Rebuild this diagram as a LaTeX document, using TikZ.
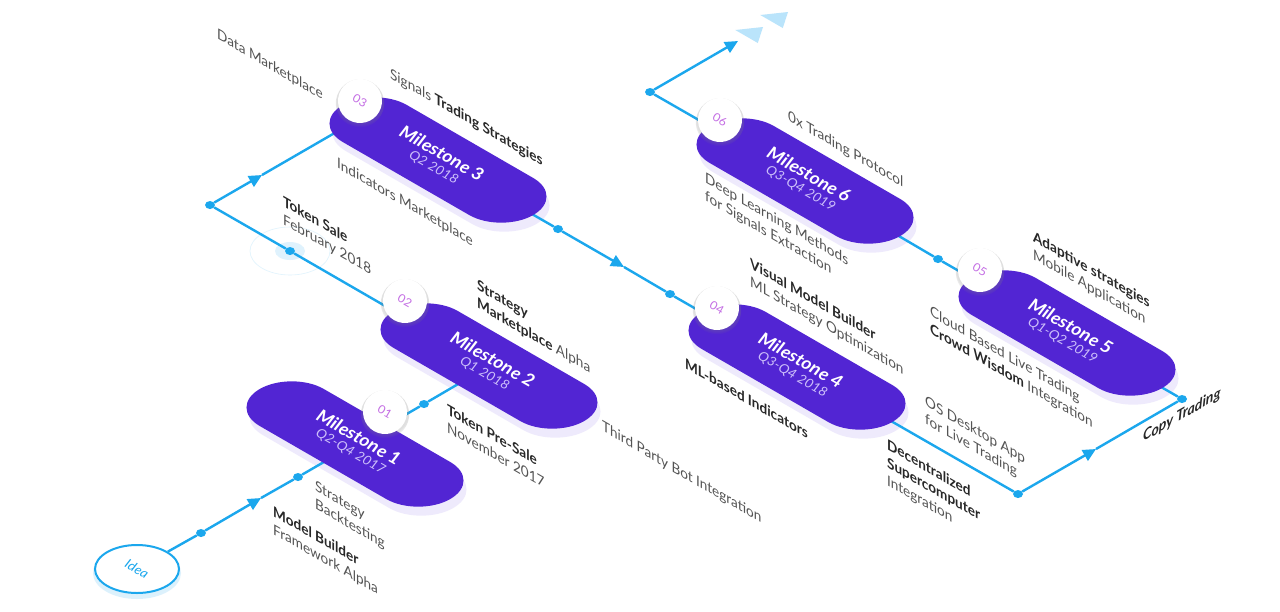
\documentclass[tikz,border=0pt]{standalone}
\usepackage{fontspec}
\setmainfont{Lato}[FakeStretch=1.08]
\usetikzlibrary{arrows.meta,shapes.misc,shapes.geometric,shadows,backgrounds}

\definecolor{msviolet}{RGB}{82,37,211}
\definecolor{msglow}{RGB}{196,182,246}
\definecolor{routeblue}{RGB}{27,167,237}
\definecolor{ghostblue}{RGB}{186,228,251}
\definecolor{badgepink}{RGB}{196,110,228}
\definecolor{datelilac}{RGB}{204,190,250}
\definecolor{labelgray}{RGB}{84,84,84}
\definecolor{labeldark}{RGB}{40,40,40}

\newcommand{\lbold}[1]{{\bfseries\color{labeldark}#1}}
\newcommand{\msdate}[1]{{\fontsize{13}{13}\selectfont\mdseries\color{datelilac}#1}}

\begin{document}
\begin{tikzpicture}[x=1pt, y=-1pt, >={Triangle[length=13pt, width=12pt]},
  isoG/.style={cm={0.866,-0.5,0.866,0.5,(0,0)}},
  isoWall/.style={cm={0.866,-0.5,0,1,(0,0)}},
  isoWallUp/.style={cm={0.866,0.5,0,1,(0,0)}},
  route/.style={routeblue, line width=2.4pt},
  routedot/.style={ellipse, fill=routeblue, inner sep=0pt, minimum width=10pt, minimum height=8pt},
  pill/.style={isoG, rounded rectangle, fill=msviolet, inner sep=0pt, minimum width=220pt, minimum height=74pt},
  pillglow/.style={pill, fill=msglow, opacity=.28},
  mstext/.style={rotate=-30, align=center, inner sep=0pt, text=white, font=\fontsize{17.5}{14}\selectfont\bfseries\itshape},
  badge/.style={circle, fill=white, inner sep=0pt, minimum size=44pt, rotate=-30, text=badgepink,
    font=\fontsize{11.5}{11.5}\selectfont, circular drop shadow={shadow xshift=0pt, shadow yshift=-2pt, opacity=.25}},
  lbl/.style={isoWall, anchor=north west, align=left, inner sep=0pt, text=labelgray, font=\fontsize{14.5}{18}\selectfont},
  copylbl/.style={isoWallUp, anchor=base west, inner sep=0pt, text=labeldark, font=\fontsize{15}{18}\selectfont\bfseries\itshape},
]

% plocha
\useasboundingbox (0,0) rectangle (1280,611);
\begin{pgfonlayer}{background}
  \fill[white] (0,0) rectangle (1280,611);
\end{pgfonlayer}

% start
\node[ellipse, draw=routeblue, line width=2pt, fill=white, minimum width=84pt, minimum height=48pt] (idea) at (137,569) {};
\node[rotate=-30, text=routeblue, font=\fontsize{13}{13}\selectfont\itshape] (ideat) at (idea) {Idea};

% milniky
\node[pill] (m1) at (355,444) {};
\node[pill] (m2) at (489,366) {};
\node[pill] (m3) at (438,160) {};
\node[pill] (m4) at (797,367) {};
\node[pill] (m5) at (1067,333) {};
\node[pill] (m6) at (805,181) {};

\node[mstext] (m1t) at (m1) {Milestone 1\\\msdate{Q2-Q4 2017}};
\node[mstext] (m2t) at (m2) {Milestone 2\\\msdate{Q1 2018}};
\node[mstext] (m3t) at (m3) {Milestone 3\\\msdate{Q2 2018}};
\node[mstext] (m4t) at (m4) {Milestone 4\\\msdate{Q3-Q4 2018}};
\node[mstext] (m5t) at (m5) {Milestone 5\\\msdate{Q1-Q2 2019}};
\node[mstext] (m6t) at (m6) {Milestone 6\\\msdate{Q3-Q4 2019}};

% cisla
\node[badge] (b1) at (385,412) {01};
\node[badge] (b2) at (405,301) {02};
\node[badge] (b3) at (360,101) {03};
\node[badge] (b4) at (717,308) {04};
\node[badge] (b5) at (980,270) {05};
\node[badge] (b6) at (720,120) {06};

% body trasy
\node[routedot] (d1) at (201,533) {};
\node[routedot] (d2) at (298,477) {};
\node[routedot] (d3) at (424,404) {};
\node[routedot] (tok) at (290,251) {};
\node[routedot] (c1) at (210,205) {};
\node[routedot] (d4) at (558,229) {};
\node[routedot] (d5) at (670,294) {};
\node[routedot] (c2) at (1018,494) {};
\node[routedot] (c3) at (1182,399) {};
\node[routedot] (d6) at (938,259) {};
\node[routedot] (c4) at (650,92) {};

\coordinate (a1) at (261,498);
\coordinate (a2) at (262,175);
\coordinate (m3in) at (345,127);
\coordinate (a3) at (624,267);
\coordinate (a4) at (1096,449);
\coordinate (a5) at (738,41);
\coordinate (t1) at (763,27);
\coordinate (t2) at (788,12);

% trasa pod milniky
\begin{pgfonlayer}{background}
  \node[pillglow] (g1) at ([shift={(3,9)}]m1.center) {};
  \node[pillglow] (g2) at ([shift={(3,9)}]m2.center) {};
  \node[pillglow] (g3) at ([shift={(3,9)}]m3.center) {};
  \node[pillglow] (g4) at ([shift={(3,9)}]m4.center) {};
  \node[pillglow] (g5) at ([shift={(3,9)}]m5.center) {};
  \node[pillglow] (g6) at ([shift={(3,9)}]m6.center) {};
  \node[ellipse, fill=ghostblue, opacity=.5, minimum width=88pt, minimum height=52pt] (ig) at ([shift={(0,4)}]idea.center) {};

  \fill[ghostblue, opacity=.45] (tok) ellipse [x radius=15, y radius=9];
  \draw[ghostblue, opacity=.45, line width=.6pt] (tok) ellipse [x radius=40, y radius=24];

  \draw[route] (idea) -- (d1);
  \draw[route, ->] (d1) -- (a1);
  \draw[route] (a1) -- (d2) -- (m1.center);
  \draw[route] (m1.center) -- (d3) -- (m2.center);
  \draw[route] (m2.center) -- (tok) -- (c1);
  \draw[route, ->] (c1) -- (a2);
  \draw[route] (a2) -- (m3in);
  \draw[route] (m3.center) -- (d4);
  \draw[route, ->] (d4) -- (a3);
  \draw[route] (a3) -- (d5) -- (m4.center);
  \draw[route] (m4.center) -- (c2);
  \draw[route, ->] (c2) -- (a4);
  \draw[route] (a4) -- (c3) -- (m5.center);
  \draw[route] (m5.center) -- (d6) -- (m6.center);
  \draw[route] (m6.center) -- (c4);
  \draw[route, ->] (c4) -- (a5);
\end{pgfonlayer}

% slabe sipky
\fill[ghostblue, shift={(t1)}, isoG] (0,0) -- (13,19) -- (-13,19) -- cycle;
\fill[ghostblue, shift={(t2)}, isoG] (0,0) -- (13,19) -- (-13,19) -- cycle;

% popisky
\node[lbl] (ldata) at (217,28) {Data Marketplace};
\node[lbl] (lsignals) at (390,67) {Signals \lbold{Trading Strategies}};
\node[lbl] (lindic) at (337,157) {Indicators Marketplace};
\node[lbl] (ltoken) at (283,195) {\lbold{Token Sale}\\February 2018};
\node[lbl] (lstrat) at (477,279) {\lbold{Strategy}\\\lbold{Marketplace} Alpha};
\node[lbl] (lpresale) at (447,403) {\lbold{Token Pre-Sale}\\November 2017};
\node[lbl] (lthird) at (602,420) {Third Party Bot Integration};
\node[lbl] (lbacktest) at (315,480) {Strategy\\Backtesting};
\node[lbl] (lmodel) at (273,505) {\lbold{Model Builder}\\Framework Alpha};
\node[lbl] (lzerox) at (788,110) {0x Trading Protocol};
\node[lbl] (ldeep) at (705,172) {Deep Learning Methods\\for Signals Extraction};
\node[lbl] (lvisual) at (750,257) {\lbold{Visual Model Builder}\\ML Strategy Optimization};
\node[lbl] (lmlind) at (685,357) {\lbold{ML-based Indicators}};
\node[lbl] (ldecent) at (887,438) {\lbold{Decentralized}\\\lbold{Supercomputer}\\Integration};
\node[lbl] (losdesk) at (925,395) {OS Desktop App\\for Live Trading};
\node[lbl] (lcloud) at (930,305) {Cloud Based Live Trading\\\lbold{Crowd Wisdom} Integration};
\node[lbl] (ladapt) at (1033,230) {\lbold{Adaptive strategies}\\Mobile Application};
\node[copylbl] (lcopy) at (1143,442) {Copy Trading};

\end{tikzpicture}
\end{document}
